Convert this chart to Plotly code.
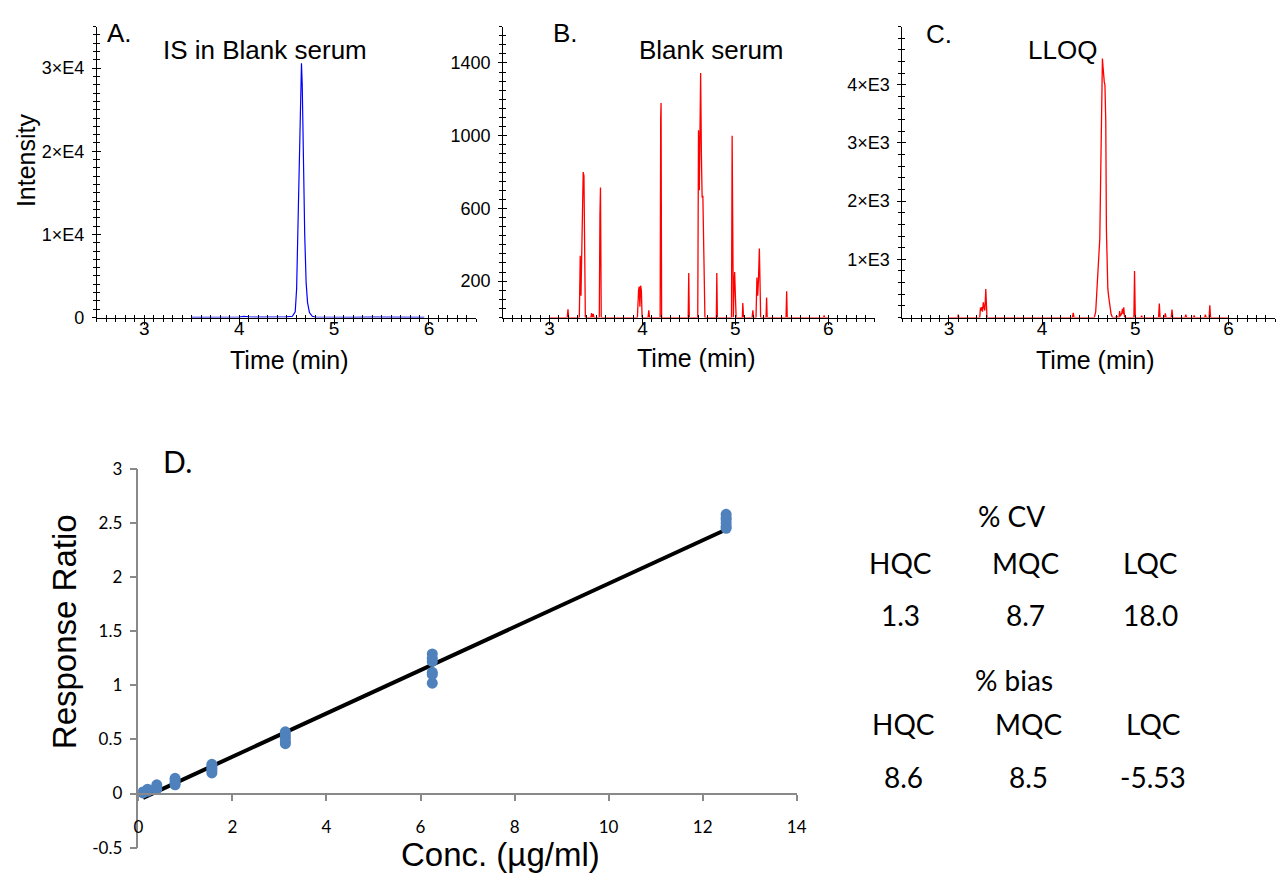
import numpy as np
import plotly.graph_objects as go

W, H = 1287, 883

# ---------------- data ----------------
# Panel A: IS in blank serum (blue)
A_time = [3.50, 3.60, 3.70, 3.80, 3.90, 4.00, 4.05, 4.10, 4.20, 4.30, 4.40, 4.50, 4.56,
          4.590, 4.605, 4.620, 4.635, 4.648, 4.656, 4.664, 4.675, 4.690, 4.705, 4.720,
          4.740, 4.770, 4.80, 4.90, 5.00, 5.20, 5.40, 5.60, 5.80, 5.95]
A_int = [30, 20, 40, 20, 30, 60, 150, 80, 40, 30, 50, 80, 150,
         700, 3500, 11000, 21000, 28500, 30600, 28000, 19500, 10000, 4200, 1800,
         600, 150, 60, 40, 50, 30, 40, 30, 40, 20]

# Panel B: blank serum (red)
B_time = [3.000, 3.190, 3.198, 3.205,
          3.320, 3.330, 3.338, 3.350, 3.362, 3.370, 3.378, 3.385,
          3.445, 3.452, 3.460, 3.470, 3.478,
          3.535, 3.542, 3.548, 3.556,
          3.945, 3.958, 3.965, 3.972, 3.980, 3.988, 3.996,
          4.060, 4.068, 4.076,
          4.190, 4.196, 4.200, 4.206,
          4.492, 4.498, 4.504,
          4.595, 4.603, 4.612, 4.620, 4.626, 4.634, 4.642, 4.650, 4.656, 4.664, 4.672,
          4.795, 4.800, 4.806,
          4.958, 4.965, 4.972, 4.978, 4.985, 4.992, 5.000, 5.008,
          5.075, 5.080, 5.086, 5.090,
          5.180, 5.188, 5.195,
          5.222, 5.232, 5.240, 5.248, 5.258, 5.265, 5.272,
          5.330, 5.336, 5.342,
          5.545, 5.552, 5.558,
          5.950, 5.955, 5.960, 6.000]
B_int = [0, 0, 45, 0,
         0, 340, 120, 520, 800, 780, 300, 0,
         0, 25, 0, 20, 0,
         0, 560, 715, 0,
         0, 150, 170, 60, 175, 150, 0,
         0, 40, 0,
         0, 1100, 1180, 0,
         0, 245, 0,
         0, 1030, 700, 1100, 1345, 900, 660, 670, 430, 430, 0,
         0, 245, 0,
         0, 1000, 180, 0, 170, 250, 120, 0,
         0, 80, 20, 0,
         0, 40, 0,
         0, 220, 120, 200, 380, 200, 0,
         0, 110, 0,
         0, 145, 0,
         0, 12, 0, 0]

# Panel C: LLOQ (red)
C_time = [3.000, 3.095, 3.100, 3.106,
          3.330, 3.338, 3.345, 3.352, 3.360, 3.368, 3.376, 3.385, 3.395, 3.402, 3.408,
          4.325, 4.334, 4.342,
          4.560, 4.575, 4.583, 4.600, 4.619, 4.630, 4.640, 4.647, 4.654, 4.660, 4.667,
          4.674, 4.683, 4.690, 4.697, 4.705, 4.715, 4.725, 4.740, 4.755,
          4.790, 4.800, 4.810, 4.825, 4.832, 4.840, 4.855, 4.862, 4.870, 4.876, 4.885,
          4.985, 4.992, 5.000,
          5.060, 5.068, 5.076,
          5.250, 5.258, 5.266,
          5.315, 5.322, 5.330,
          5.386, 5.394, 5.402,
          5.535, 5.542, 5.550,
          5.625, 5.632, 5.640,
          5.745, 5.752, 5.760,
          5.792, 5.800, 5.808, 6.000]
C_int = [0, 0, 50, 0,
         0, 170, 120, 180, 100, 260, 180, 120, 490, 300, 0,
         0, 80, 0,
         0, 100, 350, 680, 1360, 2600, 3800, 4450, 4300, 4100, 4050,
         4000, 3380, 1500, 680, 500, 350, 200, 60, 0,
         0, 30, 0, 0, 110, 20, 80, 150, 60, 175, 0,
         0, 800, 0,
         0, 30, 0,
         0, 240, 0,
         0, 70, 0,
         0, 135, 0,
         0, 50, 0,
         0, 35, 0,
         0, 50, 0,
         0, 210, 0, 0]

# Panel D: calibration curve
D_conc = [0.098, 0.098, 0.098,
          0.195, 0.195, 0.195,
          0.39, 0.39, 0.39,
          0.78, 0.78, 0.78, 0.78,
          1.5625, 1.5625, 1.5625, 1.5625, 1.5625,
          3.125, 3.125, 3.125, 3.125, 3.125,
          6.25, 6.25, 6.25, 6.25, 6.25, 6.25,
          12.5, 12.5, 12.5, 12.5, 12.5, 12.5]
D_resp = [0.005, 0.01, 0.015,
          0.02, 0.03, 0.04,
          0.04, 0.06, 0.08,
          0.08, 0.10, 0.12, 0.14,
          0.19, 0.21, 0.23, 0.25, 0.27,
          0.46, 0.48, 0.51, 0.54, 0.57,
          1.02, 1.10, 1.12, 1.22, 1.25, 1.29,
          2.45, 2.47, 2.50, 2.53, 2.55, 2.58]
fit_slope = 0.2
fit_intercept = -0.06
fit_x = [0.1, 12.5]

# QC table
qc_names = ["HQC", "MQC", "LQC"]
cv_values = ["1.3", "8.7", "18.0"]
bias_values = ["8.6", "8.5", "-5.53"]

# tick labels
A_ytext = ["0", "1×E4", "2×E4", "3×E4"]
C_ytext = ["1×E3", "2×E3", "3×E3", "4×E3"]
B_ytext = ["200", "600", "1000", "1400"]

# ---------------- helpers ----------------
def fx(p):
    return p / W

def fy(p):
    return 1 - p / H

FONT = "Liberation Sans"
CAL = "Lato"

fig = go.Figure()

fig.add_trace(go.Scatter(x=A_time, y=A_int, mode="lines", line=dict(color="#0000FF", width=1.2),
                         xaxis="x", yaxis="y", showlegend=False, hoverinfo="skip"))
fig.add_trace(go.Scatter(x=B_time, y=B_int, mode="lines", line=dict(color="#FF0000", width=1.3),
                         xaxis="x2", yaxis="y2", showlegend=False, hoverinfo="skip"))
fig.add_trace(go.Scatter(x=C_time, y=C_int, mode="lines", line=dict(color="#FF0000", width=1.3),
                         xaxis="x3", yaxis="y3", showlegend=False, hoverinfo="skip"))

fit_y = [fit_slope * v + fit_intercept for v in fit_x]
fig.add_trace(go.Scatter(x=fit_x, y=fit_y, mode="lines", line=dict(color="black", width=4),
                         xaxis="x4", yaxis="y4", showlegend=False, hoverinfo="skip"))
fig.add_trace(go.Scatter(x=D_conc, y=D_resp, mode="markers",
                         marker=dict(color="#4F81BD", size=11, line=dict(width=0)),
                         xaxis="x4", yaxis="y4", showlegend=False, hoverinfo="skip"))

# invisible traces for overlay (outside-tick) axes
for k in (5, 6, 7):
    fig.add_trace(go.Scatter(x=[None], y=[None], mode="lines", xaxis=f"x{k}", yaxis=f"y{k}",
                             showlegend=False, hoverinfo="skip"))

chrom_x_dom = [(93, 477), (504, 880), (908, 1285)]
chrom_y_dom = (16, 314)
xminor = [round(v, 2) for v in np.arange(2.5, 6.501, 0.1)]

y_specs = [
    dict(rng=[0, 35000], major=[0, 10000, 20000, 30000], text=A_ytext,
         minor=list(range(0, 35001, 1000))),
    dict(rng=[0, 1600], major=[200, 600, 1000, 1400], text=B_ytext,
         minor=list(range(0, 1601, 50))),
    dict(rng=[0, 5000], major=[1000, 2000, 3000, 4000], text=C_ytext,
         minor=list(range(0, 5001, 200))),
]

layout = dict(width=W, height=H, margin=dict(l=0, r=0, t=0, b=0),
              paper_bgcolor="white", plot_bgcolor="white", showlegend=False)

for i in range(3):
    n = i + 1
    ov = i + 5
    xd = [fx(chrom_x_dom[i][0]), fx(chrom_x_dom[i][1])]
    yd = [fy(chrom_y_dom[1]), fy(chrom_y_dom[0])]
    s = y_specs[i]
    xname = "xaxis" if n == 1 else f"xaxis{n}"
    yname = "yaxis" if n == 1 else f"yaxis{n}"
    ref_x = "x" if n == 1 else f"x{n}"
    ref_y = "y" if n == 1 else f"y{n}"
    common = dict(showgrid=False, zeroline=False, showline=True, linecolor="black", linewidth=1,
                  tickcolor="black", tickwidth=1)
    # labelled axes carry the inside half of each tick
    layout[xname] = dict(domain=xd, range=[2.5, 6.5], anchor=ref_y, tickmode="array",
                         tickvals=[3, 4, 5, 6], ticktext=["3", "4", "5", "6"], ticks="inside", ticklen=3,
                         ticklabelstandoff=-6,
                         tickfont=dict(family=FONT, size=19, color="black"),
                         minor=dict(tickmode="array", tickvals=xminor, ticks="inside", ticklen=3,
                                    tickcolor="black", tickwidth=1, showgrid=False),
                         **common)
    layout[yname] = dict(domain=yd, range=s["rng"], anchor=ref_x, tickmode="array",
                         tickvals=s["major"], ticktext=s["text"], ticks="inside", ticklen=4,
                         ticklabelstandoff=8,
                         tickfont=dict(family=FONT, size=18, color="black"),
                         minor=dict(tickmode="array", tickvals=s["minor"], ticks="inside", ticklen=3,
                                    tickcolor="black", tickwidth=1, showgrid=False),
                         **common)
    # overlay axes carry the outside half of each tick
    layout[f"xaxis{ov}"] = dict(overlaying=ref_x, range=[2.5, 6.5], anchor=f"y{ov}", domain=xd,
                                tickmode="array", tickvals=[3, 4, 5, 6], ticks="outside", ticklen=6,
                                showticklabels=False,
                                minor=dict(tickmode="array", tickvals=xminor, ticks="outside", ticklen=3,
                                           tickcolor="black", tickwidth=1, showgrid=False),
                                **common)
    layout[f"yaxis{ov}"] = dict(overlaying=ref_y, range=s["rng"], anchor=f"x{ov}", domain=yd,
                                tickmode="array", tickvals=s["major"], ticks="outside", ticklen=4,
                                showticklabels=False,
                                minor=dict(tickmode="array", tickvals=s["minor"], ticks="outside", ticklen=3,
                                           tickcolor="black", tickwidth=1, showgrid=False),
                                **common)

# Panel D axes
gray = "#898989"
layout["xaxis4"] = dict(domain=[fx(135), fx(801)], range=[0, 14], anchor="free", position=fy(802),
                        tickmode="linear", tick0=0, dtick=2, ticks="outside", ticklen=6, tickwidth=1.5,
                        tickcolor=gray, showline=True, linecolor=gray, linewidth=1.5,
                        showgrid=False, zeroline=False, ticklabelstandoff=12,
                        tickfont=dict(family=CAL, size=17, color="black"))
layout["yaxis4"] = dict(domain=[fy(857), fy(469)], range=[-0.5, 3], anchor="x4",
                        tickmode="array", tickvals=[-0.5, 0, 0.5, 1, 1.5, 2, 2.5, 3],
                        ticktext=["-0.5", "0", "0.5", "1", "1.5", "2", "2.5", "3"],
                        ticks="outside", ticklen=7, tickwidth=1.5, tickcolor=gray,
                        showline=True, linecolor=gray, linewidth=1.5, showgrid=False, zeroline=False,
                        ticklabelstandoff=4, tickfont=dict(family=CAL, size=17, color="black"))

ann = []

def add_text(txt, x, y, size, family=FONT, angle=0):
    ann.append(dict(text=txt, x=fx(x), y=fy(y), xref="paper", yref="paper", showarrow=False,
                    xanchor="center", yanchor="middle", textangle=angle,
                    font=dict(family=family, size=size, color="black")))

add_text("A.", 116, 23, 26)
add_text("B.", 567, 23, 26)
add_text("C.", 945, 24, 26)
add_text("IS in Blank serum", 263, 40, 26)
add_text("Blank serum", 715, 40, 26)
add_text("LLOQ", 1070, 40, 26)
add_text("Intensity", 22, 153, 25, angle=-90)
add_text("Time (min)", 288, 358, 25)
add_text("Time (min)", 700, 355, 25)
add_text("Time (min)", 1103, 358, 25)

add_text("D.", 175, 461, 30, family=CAL)
add_text("Response Ratio", 61, 636, 33, angle=-90)
add_text("Conc. (µg/ml)", 501, 864, 33)

add_text("% CV", 1018, 517, 28, family=CAL)
for j, nm in enumerate(qc_names):
    add_text(nm, [906, 1033, 1159][j], 565, 28, family=CAL)
    add_text(cv_values[j], [906, 1033, 1159][j], 619, 28, family=CAL)
add_text("% bias", 1021, 685, 28, family=CAL)
for j, nm in enumerate(qc_names):
    add_text(nm, [909, 1036, 1162][j], 730, 28, family=CAL)
    add_text(bias_values[j], [909, 1036, 1162][j], 785, 28, family=CAL)

layout["annotations"] = ann
fig.update_layout(**layout)
fig.write_html("out.html")
